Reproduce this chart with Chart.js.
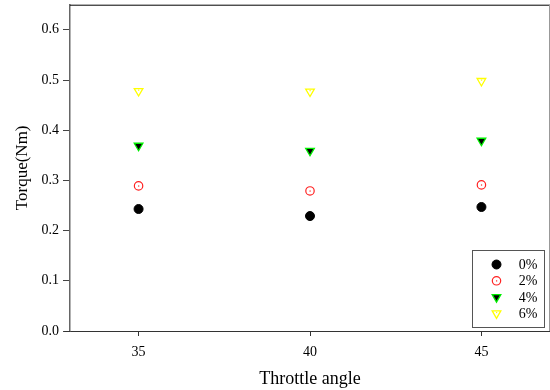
<!DOCTYPE html>
<html>
<head>
<meta charset="utf-8">
<script src="https://cdn.jsdelivr.net/npm/chart.js@4/dist/chart.umd.min.js"></script>
<style>
  html, body { margin: 0; padding: 0; background: #fff; overflow: hidden; }
  #wrap { width: 550px; height: 390px; }
</style>
</head>
<body>
<div id="wrap"><canvas id="torqueChart"></canvas></div>
<script>
// throttle angles on the x axis
const angles = [35, 40, 45];
const seriesNames = ['0%', '2%', '4%', '6%'];
const torque0 = [0.243, 0.229, 0.247];
const torque2 = [0.289, 0.279, 0.291];
const torque4 = [0.369, 0.359, 0.379];
const torque6 = [0.478, 0.477, 0.498];
const yTicks = [0, 0.1, 0.2, 0.3, 0.4, 0.5, 0.6];

const serif = "'Liberation Serif', 'Times New Roman', serif";

function toPoints(vals) {
    return angles.map((a, i) => ({ x: a, y: vals[i] }));
}

// little dot drawn in the middle of hollow markers
const centerDots = {
    id: 'centerDots',
    afterDatasetsDraw(chart) {
        const ctx = chart.ctx;
        [1, 3].forEach(di => {
            const meta = chart.getDatasetMeta(di);
            const col = chart.data.datasets[di].borderColor;
            meta.data.forEach(pt => {
                ctx.fillStyle = col;
                ctx.fillRect(pt.x - 0.5, pt.y - 0.5 + (di === 3 ? -1 : 0), 1.2, 1.2);
            });
        });
    }
};

// frame + legend box in lower right corner
const frameAndLegend = {
    id: 'frameAndLegend',
    afterDraw(chart) {
        const ctx = chart.ctx;
        const a = chart.chartArea;
        ctx.save();
        ctx.strokeStyle = '#000';
        ctx.lineWidth = 1;
        ctx.beginPath();
        ctx.moveTo(a.left, a.top + 0.5);
        ctx.lineTo(a.right, a.top + 0.5);
        ctx.stroke();
        ctx.strokeStyle = '#999';
        ctx.beginPath();
        ctx.moveTo(a.right - 0.5, a.top);
        ctx.lineTo(a.right - 0.5, a.bottom);
        ctx.stroke();
        // x axis line sticks out a bit on the left
        ctx.strokeStyle = '#333';
        ctx.beginPath();
        ctx.moveTo(a.left - 6, a.bottom + 0.5);
        ctx.lineTo(a.left, a.bottom + 0.5);
        ctx.stroke();

        // legend
        const bx = 472.5, by = 250.5, bw = 72, bh = 77;
        ctx.strokeStyle = '#555';
        ctx.lineWidth = 1;
        ctx.fillStyle = '#fff';
        ctx.fillRect(bx, by, bw, bh);
        ctx.strokeRect(bx, by, bw, bh);
        ctx.font = '14px ' + serif;
        ctx.textAlign = 'right';
        ctx.textBaseline = 'middle';
        chart.data.datasets.forEach((ds, i) => {
            const y = by + 14 + i * 16.3;
            const x = bx + 24;
            ctx.fillStyle = ds.backgroundColor;
            ctx.strokeStyle = ds.borderColor;
            ctx.lineWidth = ds.borderWidth;
            Chart.helpers.drawPoint(ctx, {
                pointStyle: ds.pointStyle,
                radius: ds.pointRadius,
                rotation: ds.rotation || 0,
                borderWidth: ds.borderWidth
            }, x, y);
            if (i === 1 || i === 3) {
                ctx.fillStyle = ds.borderColor;
                ctx.fillRect(x - 0.5, y - 0.5 + (i === 3 ? -1 : 0), 1.2, 1.2);
            }
            ctx.fillStyle = '#000';
            ctx.fillText(seriesNames[i], bx + 65, y + 1);
        });
        ctx.restore();
    }
};

const ctx = document.getElementById('torqueChart').getContext('2d');
new Chart(ctx, {
    type: 'scatter',
    data: {
        datasets: [
            {
                label: seriesNames[0],
                data: toPoints(torque0),
                pointStyle: 'circle',
                pointRadius: 4.5,
                backgroundColor: '#000',
                borderColor: '#000',
                borderWidth: 1
            },
            {
                label: seriesNames[1],
                data: toPoints(torque2),
                pointStyle: 'circle',
                pointRadius: 4.2,
                backgroundColor: 'rgba(0,0,0,0)',
                borderColor: '#ff2020',
                borderWidth: 1.2
            },
            {
                label: seriesNames[2],
                data: toPoints(torque4),
                pointStyle: 'triangle',
                rotation: 180,
                pointRadius: 5,
                backgroundColor: '#000',
                borderColor: '#00ee00',
                borderWidth: 1.3
            },
            {
                label: seriesNames[3],
                data: toPoints(torque6),
                pointStyle: 'triangle',
                rotation: 180,
                pointRadius: 5,
                backgroundColor: 'rgba(0,0,0,0)',
                borderColor: '#ffff00',
                borderWidth: 1.3
            }
        ]
    },
    options: {
        responsive: true,
        maintainAspectRatio: false,
        animation: false,
        layout: { autoPadding: false, padding: { top: 4.5, right: 0, left: 0, bottom: 0 } },
        plugins: {
            legend: { display: false },
            tooltip: { enabled: false }
        },
        scales: {
            x: {
                type: 'linear',
                min: 33,
                max: 47,
                afterBuildTicks: (scale) => {
                    scale.ticks = angles.map(v => ({ value: v }));
                },
                afterFit: (scale) => {
                    scale.height = 59;
                    // no extra room for the outer tick labels
                    scale.paddingLeft = 0;
                    scale.paddingRight = 0;
                },
                border: { display: true, color: '#333', width: 1 },
                grid: { drawOnChartArea: false, drawTicks: true, tickLength: 5, color: '#333' },
                ticks: {
                    color: '#000',
                    font: { family: serif, size: 14 },
                    padding: 8
                },
                title: {
                    display: true,
                    text: 'Throttle angle',
                    color: '#000',
                    font: { family: serif, size: 18 },
                    padding: { top: 0, bottom: 0 }
                }
            },
            y: {
                min: 0,
                max: 0.65,
                afterBuildTicks: (scale) => {
                    scale.ticks = yTicks.map(v => ({ value: v }));
                },
                afterFit: (scale) => { scale.width = 70; },
                border: { display: true, color: '#666', width: 1.5 },
                grid: { drawOnChartArea: false, drawTicks: true, tickLength: 7, color: '#444' },
                ticks: {
                    color: '#000',
                    font: { family: serif, size: 14, lineHeight: 0.1 },
                    padding: 4,
                    callback: (v) => Number(v).toFixed(1)
                },
                title: {
                    display: true,
                    text: 'Torque(Nm)',
                    color: '#000',
                    font: { family: serif, size: 17 },
                    padding: { top: 12, bottom: 4 }
                }
            }
        }
    },
    plugins: [centerDots, frameAndLegend]
});
</script>
</body>
</html>
